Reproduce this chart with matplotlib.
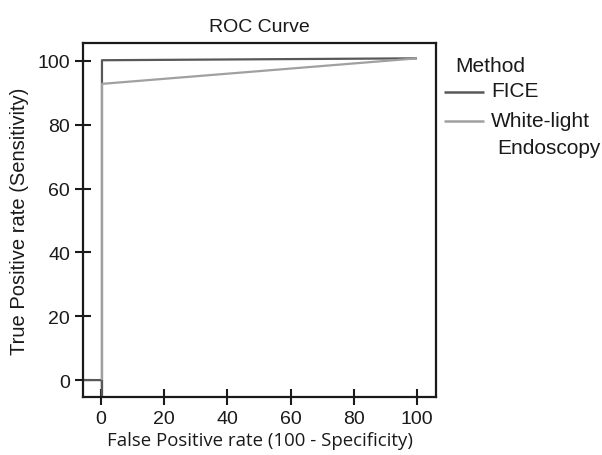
import matplotlib.pyplot as plt
from matplotlib.lines import Line2D

plt.rcParams['font.family'] = ['Liberation Sans', 'DejaVu Sans']

# ROC points
fice_x = [-6, 0.3, 0.3, 0.3, 100]
fice_y = [0, 0, -6, 100.2, 100.8]
wl_x = [0.3, 0.3, 100]
wl_y = [0, 92.8, 100.8]
ticks = [0, 20, 40, 60, 80, 100]
methods = ['FICE', 'White-light']
colors = ['#585858', '#a0a0a0']

W, H = 602, 456
fig = plt.figure(figsize=(W / 100, H / 100), dpi=100, facecolor='white')
ax = fig.add_axes([83 / W, 1 - 398 / H, (436 - 83) / W, (398 - 44) / H])

ax.plot(fice_x, fice_y, color=colors[0], lw=1.6, solid_capstyle='butt')
ax.plot(wl_x, wl_y, color=colors[1], lw=1.6, solid_capstyle='butt')

ax.set_xlim(-5.7, 106)
ax.set_ylim(-5.3, 105.6)
ax.set_xticks(ticks)
ax.set_yticks(ticks)
for s in ax.spines.values():
    s.set_linewidth(1.6)
    s.set_color('#1a1a1a')
ax.tick_params(axis='both', direction='inout', length=11.5, width=1.5, labelsize=14,
               pad=3.5, color='#1a1a1a', labelcolor='#1a1a1a')

ax.set_title('ROC Curve', fontsize=14, pad=8.6, color='#1a1a1a')
ax.set_xlabel('False Positive rate (100 - Specificity)', fontsize=13.4,
              family=['Open Sans', 'DejaVu Sans'], labelpad=3, color='#1a1a1a')
ax.set_ylabel('True Positive rate (Sensitivity)', fontsize=14.5, labelpad=6, color='#1a1a1a')

# legend drawn by hand, outside the axes
tf = fig.transFigure
fig.text(455 / W, 1 - 72 / H, 'Method', fontsize=15, va='baseline', color='#1a1a1a')
line_y = [93, 122]
text_y = [97, 127]
for m, c, ly, ty in zip(methods, colors, line_y, text_y):
    fig.add_artist(Line2D([444 / W, 484 / W], [1 - ly / H, 1 - ly / H], color=c, lw=1.8,
                          transform=tf, solid_capstyle='butt'))
    fig.text(491 / W, 1 - ty / H, m, fontsize=15, va='baseline', color='#1a1a1a')
fig.text(497 / W, 1 - 154 / H, 'Endoscopy', fontsize=15, va='baseline', color='#1a1a1a')

fig.savefig('out.png', dpi=100, facecolor='white')
